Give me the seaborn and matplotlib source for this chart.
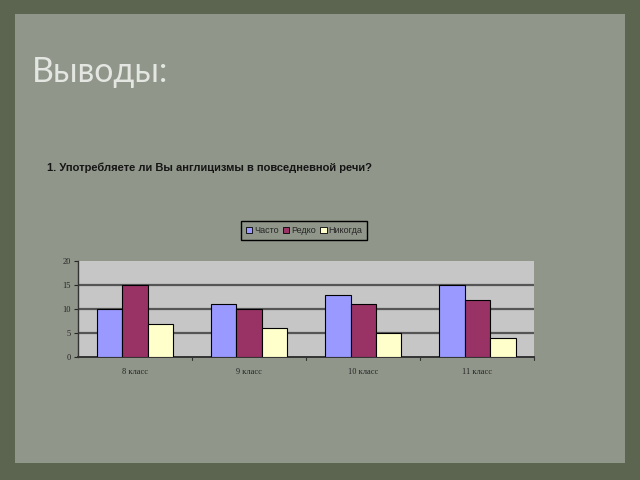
import matplotlib
matplotlib.use('Agg')
import matplotlib.pyplot as plt
import seaborn as sns
import pandas as pd
from matplotlib.patches import Rectangle

# data
classes = ["8 класс", "9 класс", "10 класс", "11 класс"]
answers = ["Часто", "Редко", "Никогда"]
often = [10, 11, 13, 15]
rarely = [15, 10, 11, 12]
never = [7, 6, 5, 4]
yticks = [0, 5, 10, 15, 20]

colors = ["#9999FF", "#993366", "#FFFFCC"]

df = pd.DataFrame({
    "Класс": classes * 3,
    "Ответ": [a for a in answers for _ in classes],
    "Кол-во": often + rarely + never,
})

sns.set_style("white")
plt.rcParams['font.family'] = ['Liberation Serif', 'DejaVu Serif']

fig = plt.figure(figsize=(6.4, 4.8), dpi=100)
fig.patch.set_facecolor("#5c654f")

# paper sheet behind the chart
fig.patches.append(Rectangle((0.024, 0.036), 0.952, 0.935, transform=fig.transFigure,
                             facecolor="#90968a", edgecolor="none", zorder=-10))

fig.text(0.05, 0.85, "Выводы:", fontsize=24.5, color="#e4e6e2",
         family=['Lato', 'DejaVu Sans'], va='center', ha='left')
fig.text(0.073, 0.651, "1. Употребляете ли Вы англицизмы в повседневной речи?",
         fontsize=8, color="#151515", weight='bold',
         family=['Liberation Sans', 'DejaVu Sans'], va='center', ha='left')

ax = fig.add_axes([0.122, 0.256, 0.713, 0.2])
ax.set_zorder(5)
sns.barplot(data=df, x="Класс", y="Кол-во", hue="Ответ", palette=colors,
            width=0.67, gap=0, edgecolor="black", linewidth=0.8, saturation=1,
            ax=ax, zorder=3, legend=False)

ax.set_facecolor("#c6c6c6")
ax.set_xlim(-0.5, 3.5)
ax.set_ylim(0, 20)
ax.set_yticks(yticks)
ax.set_yticklabels([str(t) for t in yticks], fontsize=6)
ax.tick_params(axis='x', length=0, labelsize=6, pad=8)
ax.tick_params(axis='y', length=3, width=0.8, direction='out', left=True, pad=2)
for v in [5, 10, 15]:
    ax.axhline(v, color="#555555", linewidth=1.6, zorder=1)
ax.set_xlabel("")
ax.set_ylabel("")
for s in ["top", "right"]:
    ax.spines[s].set_visible(False)
ax.spines["left"].set_color("#333333")
ax.spines["bottom"].set_color("#333333")
ax.spines["left"].set_linewidth(1.0)
ax.spines["bottom"].set_linewidth(1.4)
# small category separators under the axis
for xv in [0.5, 1.5, 2.5, 3.5]:
    ax.plot([xv, xv], [0, -0.6], color="#333333", linewidth=0.8, clip_on=False)

handles = [Rectangle((0, 0), 1, 1, facecolor=c, edgecolor="black", linewidth=0.6) for c in colors]
leg = fig.legend(handles, answers, loc='center', bbox_to_anchor=(0.475, 0.519),
                 ncol=3, frameon=True, handlelength=0.7, handleheight=0.7,
                 handletextpad=0.2, columnspacing=0.5, borderpad=0.55, fancybox=False,
                 facecolor="#90968a", edgecolor="black", framealpha=1,
                 prop={'family': ['Liberation Sans', 'DejaVu Sans'], 'size': 6.5})
leg.get_frame().set_linewidth(1.0)

plt.savefig("out.png", dpi=100, facecolor=fig.get_facecolor())
